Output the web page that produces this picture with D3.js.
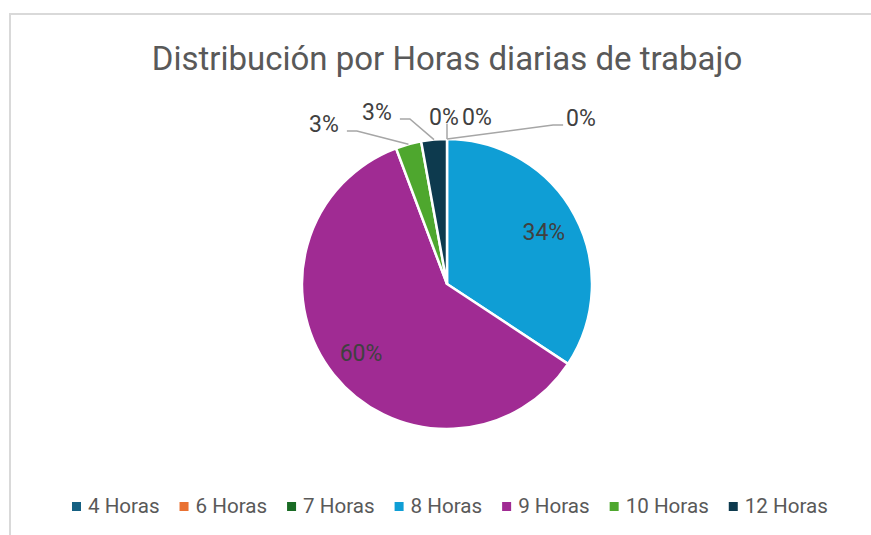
<!DOCTYPE html>
<html>
<head>
<meta charset="utf-8">
<script src="https://cdn.jsdelivr.net/npm/d3@7"></script>
<style>
  body { margin: 0; background: #fff; }
  text { font-family: Roboto, "Noto Sans", sans-serif; }
</style>
</head>
<body>
<div id="chart"></div>
<script>
// data (counts give 34% / 60% / 3% / 3%)
const categories = ["4 Horas", "6 Horas", "7 Horas", "8 Horas", "9 Horas", "10 Horas", "12 Horas"];
const counts = [0, 0, 0, 12, 21, 1, 1];
const colorList = ["#156082", "#e97132", "#196b24", "#0f9ed5", "#a02b93", "#4ea72e", "#0d3a4e"];

// where Excel put the small labels (offset from pie centre), and whether they got a leader line
const labelOffsets = {
    "4 Horas": [-3, -167, true],
    "6 Horas": [30, -167, false],
    "7 Horas": [134, -166, true],
    "10 Horas": [-123, -160, true],
    "12 Horas": [-70, -172, true]
};

const width = 871, height = 535;
const cx = 447, cy = 284, radius = 145;

const svg = d3.select("#chart")
    .append("svg")
    .attr("width", width)
    .attr("height", height);

// chart area border (only top and left are in frame)
svg.append("path")
    .attr("d", `M10,${height} V14 H${width}`)
    .attr("fill", "none")
    .attr("stroke", "#d9d9d9")
    .attr("stroke-width", 2);

svg.append("text")
    .attr("x", cx)
    .attr("y", 70)
    .attr("text-anchor", "middle")
    .style("font-size", "33px")
    .style("fill", "#595959")
    .text("Distribución por Horas diarias de trabajo");

const color = d3.scaleOrdinal().domain(categories).range(colorList);
const total = d3.sum(counts);
const dataset = categories.map((c, i) => ({ category: c, value: counts[i] }));

const pie = d3.pie().sort(null).value(d => d.value);
const arcs = pie(dataset);

const arc = d3.arc().innerRadius(0).outerRadius(radius);
const labelArc = d3.arc().innerRadius(110).outerRadius(110);
const edgeArc = d3.arc().innerRadius(radius).outerRadius(radius);

const g = svg.append("g").attr("transform", `translate(${cx},${cy})`);

g.selectAll("path.slice")
    .data(arcs)
    .enter()
    .append("path")
    .attr("class", "slice")
    .attr("d", arc)
    .attr("fill", d => color(d.data.category))
    .attr("stroke", "#fff")
    .attr("stroke-width", 2.5);

const pct = d => Math.round(d.data.value / total * 100) + "%";

// labels inside the big slices
g.selectAll("text.inside")
    .data(arcs.filter(d => !labelOffsets[d.data.category]))
    .enter()
    .append("text")
    .attr("class", "inside")
    .attr("transform", d => `translate(${labelArc.centroid(d)})`)
    .attr("text-anchor", "middle")
    .attr("dy", "0.35em")
    .style("font-size", "23px")
    .style("fill", "#404040")
    .text(pct);

// labels outside, with leader lines
const outside = arcs.filter(d => labelOffsets[d.data.category]);

const outTexts = g.selectAll("text.outside")
    .data(outside)
    .enter()
    .append("text")
    .attr("class", "outside")
    .attr("x", d => labelOffsets[d.data.category][0])
    .attr("y", d => labelOffsets[d.data.category][1])
    .attr("text-anchor", "middle")
    .attr("dy", "0.35em")
    .style("font-size", "23px")
    .style("fill", "#404040")
    .text(pct);

outTexts.each(function (d) {
    const off = labelOffsets[d.data.category];
    if (!off[2]) return;
    const half = this.getComputedTextLength() / 2;
    const a = edgeArc.centroid(d);
    const ly = off[1] + 7;
    let pts;
    if (Math.abs(off[0] - a[0]) < half) {
        pts = [a, [a[0], ly]];
    } else if (off[0] < a[0]) {
        const x = off[0] + half + 8;
        pts = [a, [x + 10, ly], [x, ly]];
    } else {
        const x = off[0] - half - 3;
        pts = [a, [x - 10, ly], [x, ly]];
    }
    g.append("path")
        .attr("d", d3.line()(pts))
        .attr("fill", "none")
        .attr("stroke", "#a6a6a6")
        .attr("stroke-width", 1.5);
});

// legend
const legend = svg.append("g").attr("class", "legend");
let lx = 72;
categories.forEach(c => {
    legend.append("rect")
        .attr("x", lx)
        .attr("y", 502)
        .attr("width", 9)
        .attr("height", 9)
        .attr("fill", color(c));
    const t = legend.append("text")
        .attr("x", lx + 16)
        .attr("y", 513)
        .style("font-size", "20.6px")
        .style("fill", "#595959")
        .text(c);
    lx += 16 + t.node().getComputedTextLength() + 20;
});
</script>
</body>
</html>
